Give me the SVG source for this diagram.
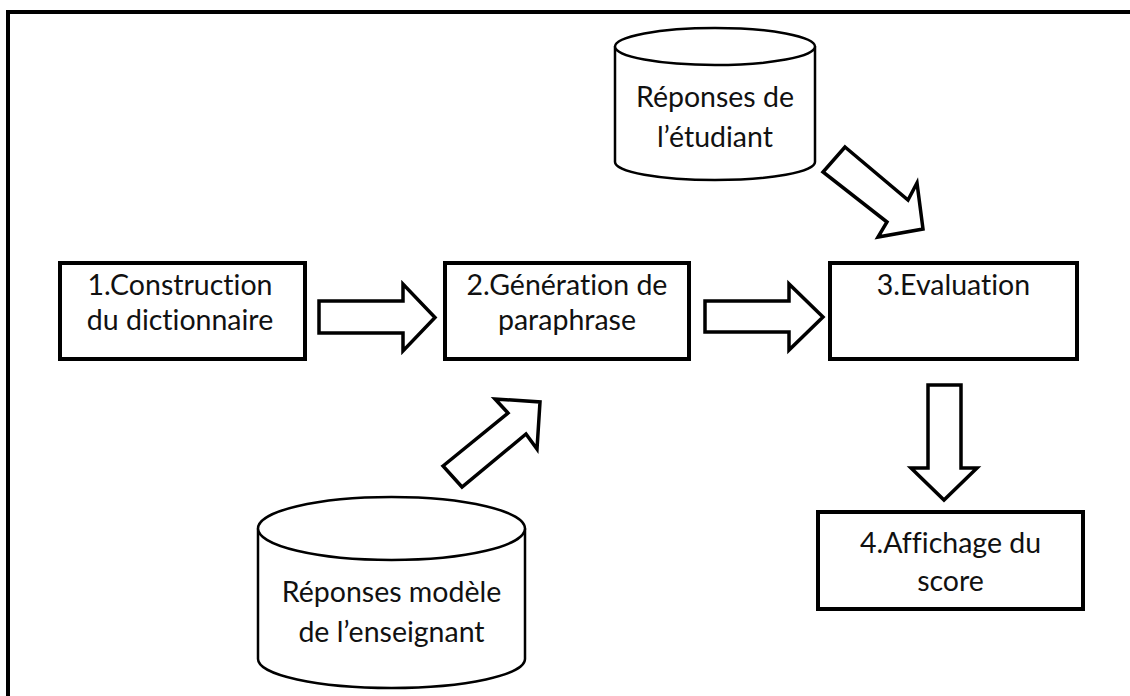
<svg xmlns="http://www.w3.org/2000/svg" width="1130" height="696" viewBox="0 0 1130 696">
  <style>
    .box { fill: #ffffff; stroke: #000000; stroke-width: 4; }
    .cyl { fill: #ffffff; stroke: #000000; stroke-width: 2.5; }
    .arrow { fill: #ffffff; stroke: #000000; stroke-width: 3.5; stroke-linejoin: miter; }
    .label { font-family: Lato, "Open Sans", "Liberation Sans", sans-serif; font-size: 28.5px; fill: #111111; text-anchor: middle; font-variant-ligatures: none; font-feature-settings: "liga" 0, "clig" 0, "dlig" 0; }
  </style>
  <rect x="0" y="0" width="1130" height="696" fill="#ffffff"/>
  <!-- page frame (top and left edges) -->
  <path d="M8,696 L8,12 L1130,12" fill="none" stroke="#000000" stroke-width="4"/>

  <g id="connectors">
    <!-- block arrows -->
    <polygon class="arrow" points="319,301 403,301 403,284 435,317.5 403,351 403,333 319,333"/>
    <polygon class="arrow" points="705,301 789,301 789,284 823,317 789,350 789,332 705,332"/>
    <polygon class="arrow" points="928,385 961,385 961,468 977,468 944,500 911,468 928,468"/>
    <polygon class="arrow" points="845,147 908,200 917,183 923,229 878,237 887,222 823,172"/>
    <polygon class="arrow" points="443,466 508,413 495,399 540,402 537,449 526,434 462,487"/>
  </g>

  <g id="construction">
    <rect class="box" x="60" y="263" width="245" height="96"/>
    <text class="label" x="180" y="295">1.Construction</text>
    <text class="label" x="180" y="330">du dictionnaire</text>
  </g>

  <g id="generation">
    <rect class="box" x="445" y="263" width="244" height="96"/>
    <text class="label" x="567" y="295">2.Génération de</text>
    <text class="label" x="567" y="330">paraphrase</text>
  </g>

  <g id="evaluation">
    <rect class="box" x="830" y="263" width="247" height="96"/>
    <text class="label" x="953.5" y="295">3.Evaluation</text>
  </g>

  <g id="affichage">
    <rect class="box" x="818" y="512" width="265" height="97"/>
    <text class="label" x="950.5" y="553">4.Affichage du</text>
    <text class="label" x="950.5" y="591">score</text>
  </g>

  <g id="reponses-etudiant">
    <path class="cyl" d="M615,46.5 L615,162 A100,18 0 0 0 815,162 L815,46.5"/>
    <ellipse class="cyl" cx="715" cy="46.5" rx="100" ry="18.5"/>
    <text class="label" x="715" y="107">Réponses de</text>
    <text class="label" x="715" y="147">l’étudiant</text>
  </g>

  <g id="reponses-modele">
    <path class="cyl" d="M258,528.5 L258,659 A133.5,29 0 0 0 525,659 L525,528.5"/>
    <ellipse class="cyl" cx="391.5" cy="528.5" rx="133.5" ry="31.5"/>
    <text class="label" x="391.5" y="602">Réponses modèle</text>
    <text class="label" x="391.5" y="642">de l’enseignant</text>
  </g>
</svg>
